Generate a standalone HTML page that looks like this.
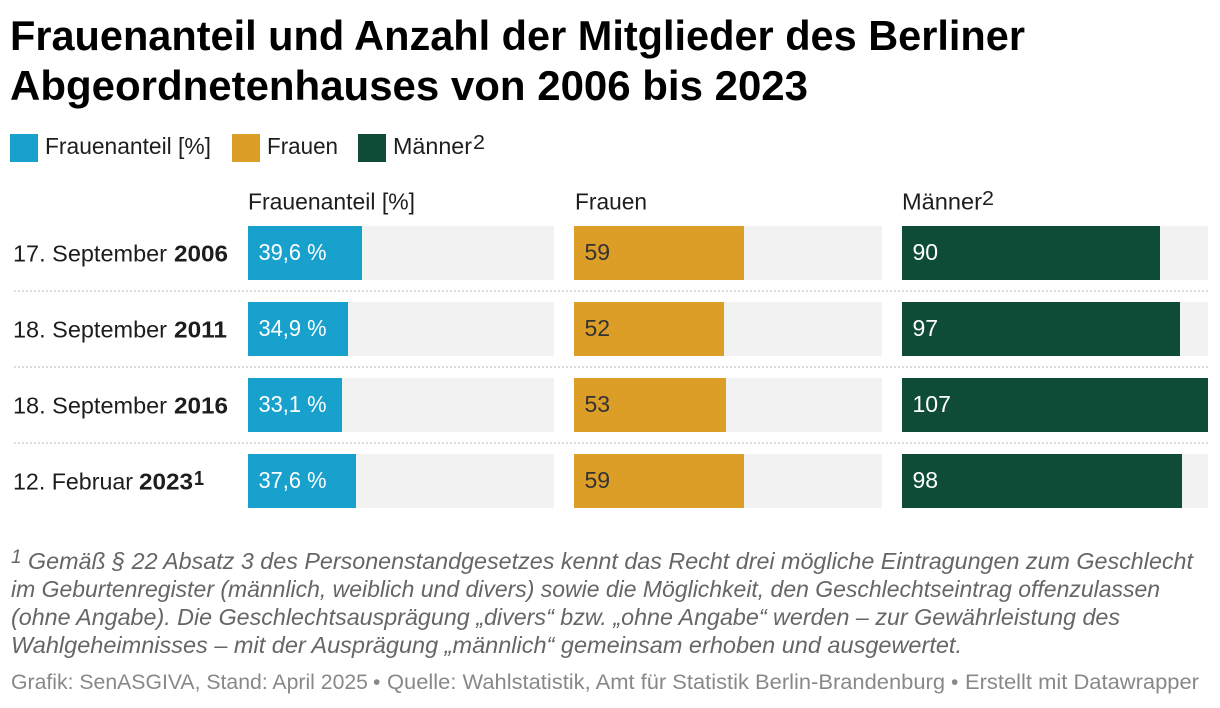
<!DOCTYPE html>
<html lang="de">
<head>
<meta charset="utf-8">
<title>Frauenanteil und Anzahl der Mitglieder des Berliner Abgeordnetenhauses</title>
<style>
html,body{margin:0;padding:0;background:#fff;width:1220px;height:708px;overflow:hidden}
svg{display:block;font-family:"Liberation Sans",Arial,sans-serif}
.title{font-size:42px;font-weight:700;fill:#000}
.t23{font-size:23px;fill:#1d1d1d}
.b{font-weight:700}
.sup{font-size:20px;fill:#1d1d1d}
.note{font-size:23px;font-style:italic;fill:#666}
.foot{font-size:21px;fill:#888}
</style>
</head>
<body>
<svg id="chart" width="1220" height="708" viewBox="0 0 1220 708" xmlns="http://www.w3.org/2000/svg">
<rect width="1220" height="708" fill="#fff"/>
<text class="title" x="10" y="50" textLength="1015" lengthAdjust="spacingAndGlyphs">Frauenanteil und Anzahl der Mitglieder des Berliner</text>
<text class="title" x="10" y="100" textLength="798" lengthAdjust="spacingAndGlyphs">Abgeordnetenhauses von 2006 bis 2023</text>

<rect x="10" y="134" width="28" height="28" fill="#18a1cd"/>
<text class="t23" x="45" y="154" textLength="166" lengthAdjust="spacingAndGlyphs">Frauenanteil [%]</text>
<rect x="232" y="134" width="28" height="28" fill="#dc9e27"/>
<text class="t23" x="267" y="154" textLength="71" lengthAdjust="spacingAndGlyphs">Frauen</text>
<rect x="358" y="134" width="28" height="28" fill="#0f4c38"/>
<text class="t23" x="393" y="154" textLength="79" lengthAdjust="spacingAndGlyphs">Männer</text>
<text class="sup" x="473" y="149" textLength="12" lengthAdjust="spacingAndGlyphs">2</text>

<text class="t23" x="248" y="209.5" textLength="167" lengthAdjust="spacingAndGlyphs">Frauenanteil [%]</text>
<text class="t23" x="575" y="209.5" textLength="72" lengthAdjust="spacingAndGlyphs">Frauen</text>
<text class="t23" x="902" y="209.5" textLength="80" lengthAdjust="spacingAndGlyphs">Männer</text>
<text class="sup" x="982" y="205" textLength="12" lengthAdjust="spacingAndGlyphs">2</text>

<text class="t23" x="13" y="261.5" textLength="154" lengthAdjust="spacingAndGlyphs">17. September</text>
<text class="t23 b" x="174" y="261.5" textLength="54" lengthAdjust="spacingAndGlyphs">2006</text>
<text class="t23" x="13" y="337.5" textLength="154" lengthAdjust="spacingAndGlyphs">18. September</text>
<text class="t23 b" x="174" y="337.5" textLength="53" lengthAdjust="spacingAndGlyphs">2011</text>
<text class="t23" x="13" y="413.5" textLength="154" lengthAdjust="spacingAndGlyphs">18. September</text>
<text class="t23 b" x="174" y="413.5" textLength="54" lengthAdjust="spacingAndGlyphs">2016</text>
<text class="t23" x="13" y="489.5" textLength="120" lengthAdjust="spacingAndGlyphs">12. Februar</text>
<text class="t23 b" x="139" y="489.5" textLength="54" lengthAdjust="spacingAndGlyphs">2023</text>
<text class="sup b" x="194" y="485" textLength="10" lengthAdjust="spacingAndGlyphs">1</text>

<g id="marks"></g>

<line x1="12" x2="1208" y1="291" y2="291" stroke="#dcdcdc" stroke-width="2" stroke-dasharray="2 2" stroke-dashoffset="2"/>
<line x1="12" x2="1208" y1="367" y2="367" stroke="#dcdcdc" stroke-width="2" stroke-dasharray="2 2" stroke-dashoffset="2"/>
<line x1="12" x2="1208" y1="443" y2="443" stroke="#dcdcdc" stroke-width="2" stroke-dasharray="2 2" stroke-dashoffset="2"/>

<text class="note" x="11" y="563" style="font-size:19px">1</text>
<text class="note" x="28" y="569" textLength="1165" lengthAdjust="spacingAndGlyphs">Gemäß § 22 Absatz 3 des Personenstandgesetzes kennt das Recht drei mögliche Eintragungen zum Geschlecht</text>
<text class="note" x="11" y="597" textLength="1149" lengthAdjust="spacingAndGlyphs">im Geburtenregister (männlich, weiblich und divers) sowie die Möglichkeit, den Geschlechtseintrag offenzulassen</text>
<text class="note" x="11" y="625" textLength="1109" lengthAdjust="spacingAndGlyphs">(ohne Angabe). Die Geschlechtsausprägung „divers“ bzw. „ohne Angabe“ werden – zur Gewährleistung des</text>
<text class="note" x="11" y="653" textLength="951" lengthAdjust="spacingAndGlyphs">Wahlgeheimnisses – mit der Ausprägung „männlich“ gemeinsam erhoben und ausgewertet.</text>
<text class="foot" x="11" y="689" textLength="357" lengthAdjust="spacingAndGlyphs">Grafik: SenASGIVA, Stand: April 2025</text>
<text class="foot" x="373" y="689">•</text>
<text class="foot" x="387" y="689" textLength="558" lengthAdjust="spacingAndGlyphs">Quelle: Wahlstatistik, Amt für Statistik Berlin-Brandenburg</text>
<text class="foot" x="951" y="689">•</text>
<text class="foot" x="965" y="689" textLength="234" lengthAdjust="spacingAndGlyphs">Erstellt mit Datawrapper</text>
</svg>
<script>
const years = ['2006', '2011', '2016', '2023'];
const frauenanteil = [39.6, 34.9, 33.1, 37.6];
const frauen = [59, 52, 53, 59];
const maenner = [90, 97, 107, 98];
const domainMax = 107;

const NS = 'http://www.w3.org/2000/svg';
const marks = document.getElementById('marks');
const COLUMN_WIDTH = 306.67;
const BAR_HEIGHT = 54;

function xScale(value) {
  return value / domainMax * COLUMN_WIDTH;
}
function yScale(rowIndex) {
  return 226 + rowIndex * 76;
}
function snap(px) {
  return Math.round(px / 2) * 2;
}
function formatPercent(v) {
  return v.toFixed(1).replace('.', ',') + ' %';
}
function formatCount(v) {
  return String(v);
}

const columns = [
  { key: 'frauenanteil', values: frauenanteil, start: 248, color: '#18a1cd', text: '#ffffff', format: formatPercent },
  { key: 'frauen', values: frauen, start: 574.67, color: '#dc9e27', text: '#333333', format: formatCount },
  { key: 'maenner', values: maenner, start: 901.33, color: '#0f4c38', text: '#ffffff', format: formatCount }
];

columns.forEach(function (col) {
  const left = snap(col.start);
  const trackRight = snap(col.start + COLUMN_WIDTH);
  col.values.forEach(function (value, i) {
    const y = yScale(i);

    const track = document.createElementNS(NS, 'rect');
    
    
    track.setAttribute('x', left);
    track.setAttribute('y', y);
    track.setAttribute('width', trackRight - left);
    track.setAttribute('height', BAR_HEIGHT);
    track.setAttribute('fill', '#f2f2f2');
    marks.appendChild(track);

    const bar = document.createElementNS(NS, 'rect');
    
    
    bar.setAttribute('x', left);
    bar.setAttribute('y', y);
    bar.setAttribute('width', snap(col.start + xScale(value)) - left);
    bar.setAttribute('height', BAR_HEIGHT);
    bar.setAttribute('fill', col.color);
    marks.appendChild(bar);

    const label = document.createElementNS(NS, 'text');
    
    
    label.setAttribute('x', left + 10.5);
    label.setAttribute('y', y + 34);
    label.setAttribute('fill', col.text);
    label.setAttribute('font-size', '23');
    label.textContent = col.format(value);
    marks.appendChild(label);
    if (col.key === 'frauenanteil') {
      label.setAttribute('textLength', '68');
      label.setAttribute('lengthAdjust', 'spacingAndGlyphs');
    }
  });
});
</script>
</body>
</html>
